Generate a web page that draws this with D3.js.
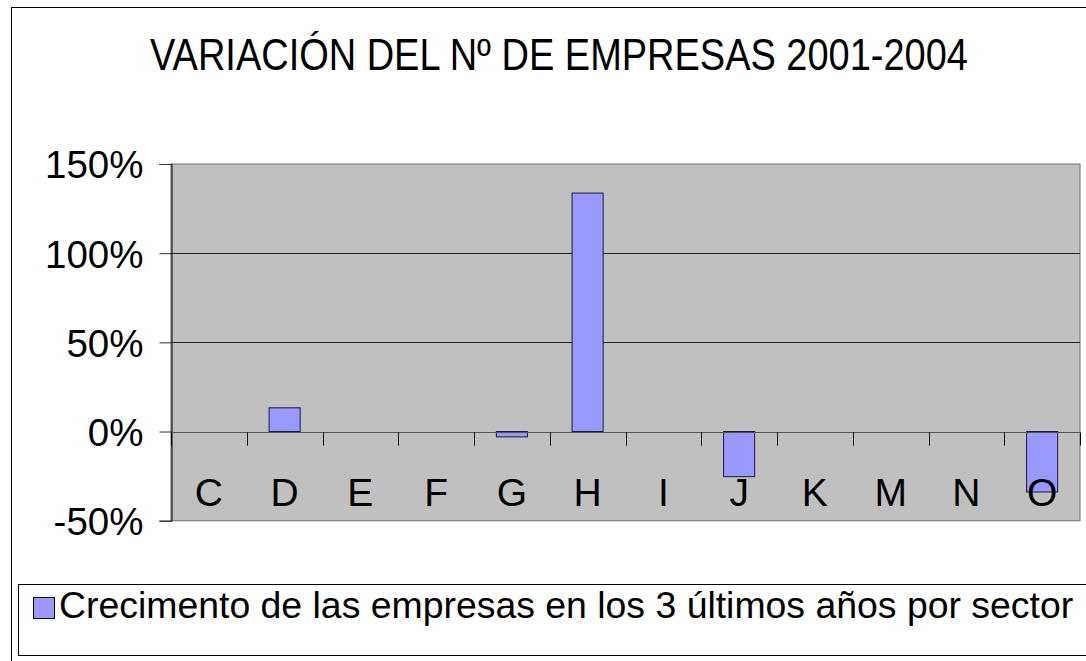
<!DOCTYPE html>
<html>
<head>
<meta charset="utf-8">
<script src="https://cdn.jsdelivr.net/npm/d3@7"></script>
<style>
  body { margin: 0; background: #fff; }
  svg text { font-family: "Liberation Sans", Arial, sans-serif; fill: #000; }
</style>
</head>
<body>
<div id="wrapper"></div>
<script>
const sectors = ["C", "D", "E", "F", "G", "H", "I", "J", "K", "M", "N", "O"]
const growth = [0, 0.133, 0, 0, -0.03, 1.337, 0, -0.253, 0, 0, 0, -0.339]
const yTicks = [-0.5, 0, 0.5, 1, 1.5]
const chartTitle = "VARIACIÓN DEL Nº DE EMPRESAS 2001-2004"
const seriesName = "Crecimento de las empresas en los 3 últimos años por sector"

const data = sectors.map((s, i) => ({ sector: s, value: growth[i] }))

const dimensions = {
  width: 1086,
  height: 661,
  plot: { left: 171, right: 1080, top: 164, bottom: 520.7 }
}

const svg = d3.select("#wrapper")
  .append("svg")
    .attr("width", dimensions.width)
    .attr("height", dimensions.height)

// outer chart frame (runs past the right and bottom edge)
svg.append("rect")
    .attr("x", 11.5)
    .attr("y", 7.5)
    .attr("width", 1100)
    .attr("height", 700)
    .attr("fill", "#fff")
    .attr("stroke", "#000")
    .attr("stroke-width", 1)

// title: tall narrow face, so squeeze it horizontally
const title = svg.append("text")
    .attr("text-anchor", "middle")
    .style("font-size", "45px")
    .text(chartTitle)
const titleW = title.node().getComputedTextLength()
title.attr("transform", `translate(559,70) scale(${818 / titleW},1)`)

const xScale = d3.scaleBand()
    .domain(sectors)
    .range([dimensions.plot.left, dimensions.plot.right])
    .padding(0)

const yScale = d3.scaleLinear()
    .domain([-0.5, 1.5])
    .range([dimensions.plot.bottom, dimensions.plot.top])

// plot background
svg.append("rect")
    .attr("x", dimensions.plot.left)
    .attr("y", dimensions.plot.top)
    .attr("width", dimensions.plot.right - dimensions.plot.left)
    .attr("height", dimensions.plot.bottom - dimensions.plot.top)
    .attr("fill", "#c0c0c0")
    .attr("stroke", "#808080")
    .attr("stroke-width", 1.2)

// gridlines
svg.append("g")
  .selectAll("line")
  .data(yTicks.filter(t => t > -0.5 && t < 1.5))
  .join("line")
    .attr("x1", dimensions.plot.left)
    .attr("x2", dimensions.plot.right)
    .attr("y1", d => Math.round(yScale(d)) + 0.5)
    .attr("y2", d => Math.round(yScale(d)) + 0.5)
    .attr("stroke", "#222")

// y axis
const pct = d3.format(".0%")
const yAxisGenerator = d3.axisLeft(yScale)
    .tickValues(yTicks)
    .tickFormat(d => pct(d).replace("−", "-"))
    .tickSize(12)
    .tickPadding(16)
const yAxis = svg.append("g")
    .attr("transform", `translate(${dimensions.plot.left + 0.5},0)`)
    .call(yAxisGenerator)
yAxis.select(".domain").attr("stroke", "#000")
yAxis.selectAll(".tick line").attr("stroke", "#333")
yAxis.selectAll(".tick text")
    .style("font-size", "38.5px")
    .attr("fill", "#000")
    .attr("dy", "0.36em")

// bars
const barWidth = xScale.bandwidth() * 0.41
svg.append("g")
  .selectAll("rect")
  .data(data.filter(d => d.value !== 0))
  .join("rect")
    .attr("x", d => xScale(d.sector) + (xScale.bandwidth() - barWidth) / 2)
    .attr("width", barWidth)
    .attr("y", d => yScale(Math.max(0, d.value)))
    .attr("height", d => Math.abs(yScale(d.value) - yScale(0)))
    .attr("fill", "#9999ff")
    .attr("stroke", "#1a1a3a")
    .attr("stroke-width", 1)

// category axis along zero
const zeroY = Math.round(yScale(0)) + 0.5
const xAxis = svg.append("g")
xAxis.append("line")
    .attr("x1", dimensions.plot.left)
    .attr("x2", dimensions.plot.right)
    .attr("y1", zeroY)
    .attr("y2", zeroY)
    .attr("stroke", "#555")
    .attr("stroke-width", 1.2)
xAxis.selectAll("line.tick")
  .data(d3.range(sectors.length + 1))
  .join("line")
    .attr("class", "tick")
    .attr("x1", i => Math.round(dimensions.plot.left + i * xScale.step()) + 0.5)
    .attr("x2", i => Math.round(dimensions.plot.left + i * xScale.step()) + 0.5)
    .attr("y1", zeroY)
    .attr("y2", zeroY + 13)
    .attr("stroke", "#000")
xAxis.selectAll("text")
  .data(sectors)
  .join("text")
    .attr("x", d => xScale(d) + xScale.bandwidth() / 2)
    .attr("y", 506)
    .attr("text-anchor", "middle")
    .style("font-size", "39px")
    .text(d => d)

// legend
const legend = svg.append("g")
legend.append("rect")
    .attr("x", 18.5)
    .attr("y", 584.5)
    .attr("width", 1100)
    .attr("height", 71)
    .attr("fill", "#fff")
    .attr("stroke", "#000")
legend.append("rect")
    .attr("x", 33.5)
    .attr("y", 597.5)
    .attr("width", 21)
    .attr("height", 21)
    .attr("fill", "#9999ff")
    .attr("stroke", "#000")
legend.append("text")
    .attr("x", 59)
    .attr("y", 618)
    .style("font-size", "37.4px")
    .text(seriesName)
</script>
</body>
</html>
